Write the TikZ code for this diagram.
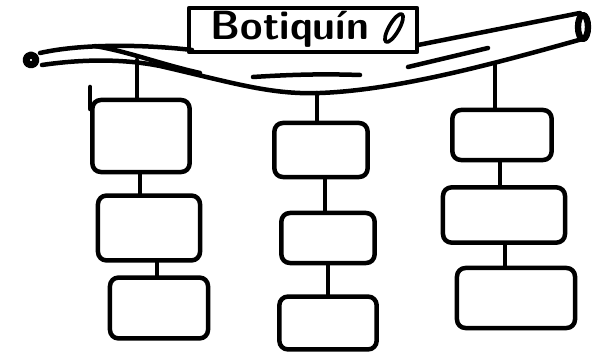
\documentclass[tikz,border=0pt]{standalone}
\usepackage{tikz}
\usetikzlibrary{positioning, calc}
\tikzset{every picture/.append style={line cap=round, line join=round}}

\begin{document}
\begin{tikzpicture}[x=0.025cm, y=-0.025cm,
    pen/.style={line width=3.2pt, black},
    kitbox/.style={pen, draw, rounded corners=6pt, inner sep=0pt},
    link/.style={pen}]
    \useasboundingbox (0,0) rectangle (605,354);

    % Rod (hanging bar)
    \draw[pen] (40,53) .. controls (80,44) and (140,44) .. (192,50);
    \draw[pen] (95,46) .. controls (130,52) and (160,64) .. (200,73);
    \draw[pen] (42,65) .. controls (90,58) and (130,60) .. (160,66)
        .. controls (230,82) and (270,95) .. (320,93)
        .. controls (400,90) and (500,62) .. (586,38);
    \draw[pen] (418,45) -- (580,13);
    \draw[pen] (253,77) .. controls (300,74) and (330,74) .. (360,75);
    \draw[pen] (408,67) -- (488,48);
    \draw[pen, line width=5pt] (31,60) circle[radius=5];
    \draw[pen, line width=4.5pt] (583,27) ellipse[x radius=5, y radius=12];

    % Label
    \node[draw, pen, minimum width=5.7cm, minimum height=1.1cm] (label) at (303,30) {};
    \node[font=\sffamily\bfseries\fontsize{29}{29}\selectfont] (title) at (290,29) {Botiquín};
    \draw[pen, line width=2.6pt, rotate around={60:(394,28)}] (394,28) ellipse[x radius=16, y radius=5];

    % Anchors on the rod
    \coordinate (rodA) at (137,60);
    \coordinate (rodB) at (317,93);
    \coordinate (rodC) at (495,64);

    % Boxes
    \node[kitbox, minimum width=2.43cm, minimum height=1.8cm] (A1) at (141,136) {};
    \node[kitbox, minimum width=2.55cm, minimum height=1.62cm] (A2) at (149,228) {};
    \node[kitbox, minimum width=2.45cm, minimum height=1.52cm] (A3) at (159,308) {};

    \node[kitbox, minimum width=2.33cm, minimum height=1.35cm] (B1) at (321,150) {};
    \node[kitbox, minimum width=2.33cm, minimum height=1.25cm] (B2) at (328,238) {};
    \node[kitbox, minimum width=2.43cm, minimum height=1.32cm] (B3) at (328,323) {};

    \node[kitbox, minimum width=2.48cm, minimum height=1.25cm] (C1) at (502,135) {};
    \node[kitbox, minimum width=3.05cm, minimum height=1.38cm] (C2) at (504,215) {};
    \node[kitbox, minimum width=2.95cm, minimum height=1.5cm] (C3) at (516,298) {};

    % Connectors
    \draw[link] (rodA) -- (rodA |- A1.north);
    \draw[link] ([yshift=-8pt]A1.north west) -- ++(0,-22);
    \draw[link] ([xshift=-0.03cm]A1.south) -- ([xshift=-0.03cm]A1.south |- A2.north);
    \draw[link] ([xshift=0.2cm]A2.south) -- ([xshift=0.2cm]A2.south |- A3.north);

    \draw[link] (rodB) -- (rodB |- B1.north);
    \draw[link] ([xshift=0.1cm]B1.south) -- ([xshift=0.1cm]B1.south |- B2.north);
    \draw[link] (B2.south) -- (B2.south |- B3.north);

    \draw[link] (rodC) -- (rodC |- C1.north);
    \draw[link] ([xshift=-0.05cm]C1.south) -- ([xshift=-0.05cm]C1.south |- C2.north);
    \draw[link] ([xshift=0.03cm]C2.south) -- ([xshift=0.03cm]C2.south |- C3.north);
\end{tikzpicture}
\end{document}
